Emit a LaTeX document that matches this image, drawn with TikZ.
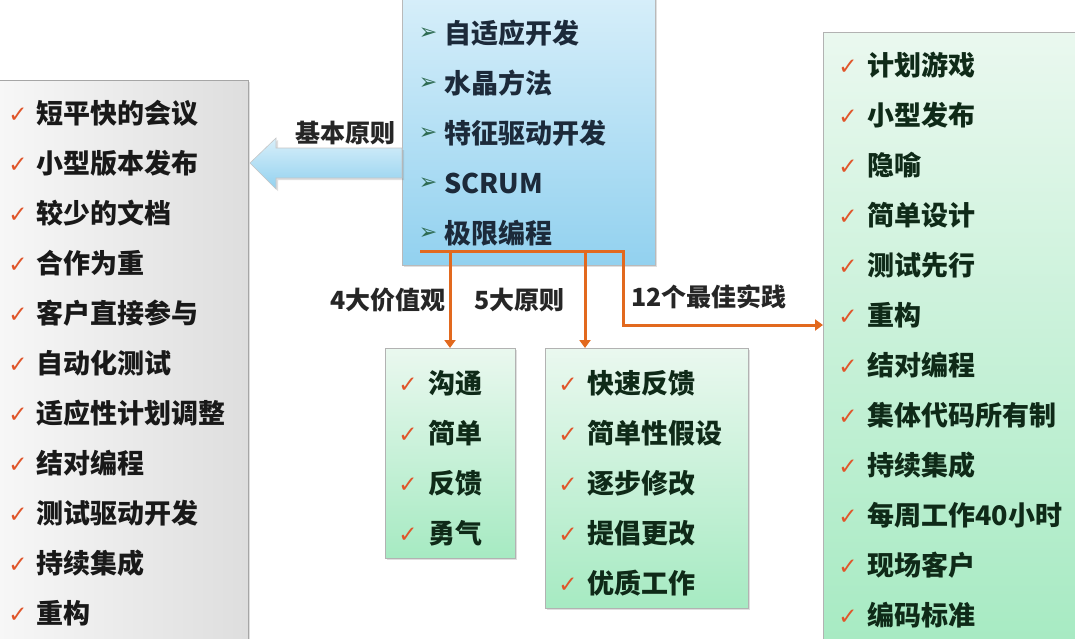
\documentclass[tikz,border=0pt]{standalone}
\usepackage{fontspec}
\setmainfont{Noto Sans CJK SC}
\newfontfamily\dejavu{DejaVu Sans}
\usetikzlibrary{arrows.meta,shadows}
\definecolor{orng}{HTML}{E2691E}
\definecolor{chkc}{HTML}{E0552A}
\definecolor{bul}{HTML}{2E6B52}
\definecolor{bluetop}{HTML}{D8EFFA}
\definecolor{bluebot}{HTML}{92D1EF}
\definecolor{greentop}{HTML}{EAF8EF}
\definecolor{greenbot}{HTML}{A6EAC2}
\definecolor{navy}{HTML}{1C2A3A}
\definecolor{dkgreen}{HTML}{0F2A18}
\tikzset{
  shadowed/.style={drop shadow={opacity=0.25,shadow xshift=2pt,shadow yshift=-2pt}},
  graybox/.style={shadowed,draw=gray!70,line width=0.8pt,left color=gray!6,right color=gray!26,inner sep=0,anchor=north west},
  bluebox/.style={shadowed,draw=gray!55,line width=0.8pt,top color=bluetop,bottom color=bluebot,inner sep=0,anchor=north west},
  greenbox/.style={shadowed,draw=gray!60,line width=0.8pt,top color=greentop,bottom color=greenbot,inner sep=0,anchor=north west},
  itemtext/.style={anchor=west,inner sep=0,font=\bfseries\fontsize{27}{27}\selectfont,text=black!90},
  lbl/.style={inner sep=0,font=\bfseries\fontsize{25}{25}\selectfont,text=black!85},
  chk/.style={inner sep=0,font=\dejavu\fontsize{23}{23}\selectfont,text=chkc},
  bulmark/.style={inner sep=0,font=\dejavu\fontsize{22}{22}\selectfont,text=bul},
  conn/.style={draw=orng,line width=3pt},
  connarrow/.style={conn,-{Triangle[width=11pt,length=8pt]}},
}
\begin{document}
\begin{tikzpicture}[x=1pt,y=-1pt]
\useasboundingbox (0,0) rectangle (1075,638);
\fill[white] (0,0) rectangle (1075,638);

% boxes
\node[graybox,minimum width=253pt,minimum height=580pt] (L) at (-5,80) {};
\node[bluebox,minimum width=253pt,minimum height=275pt] (B) at (402,-10) {};
\node[greenbox,minimum width=130pt,minimum height=210pt] (G1) at (385,348) {};
\node[greenbox,minimum width=203pt,minimum height=260pt] (G2) at (545,348) {};
\node[greenbox,minimum width=260pt,minimum height=620pt] (R) at (823,32) {};

% big block arrow (basic principles)
\path[shadowed,draw=gray!45,line width=0.6pt,top color=bluetop,bottom color=bluebot]
  (402,148) -- (276,148) -- (276,138) -- (250,163) -- (276,189) -- (276,178) -- (402,178) -- cycle;
\coordinate (arrtip) at (250,163);

% blue box items
\foreach \t [count=\i] in {自适应开发,水晶方法,特征驱动开发,SCRUM,极限编程}{
  \node[bulmark] (bb\i) at (428,{34+50*(\i-1)}) {➢};
  \node[itemtext,text=navy] (b\i) at (444,{33+50*(\i-1)}) {\t};
}

% left box items
\foreach \t [count=\i] in {短平快的会议,小型版本发布,较少的文档,合作为重,客户直接参与,自动化测试,适应性计划调整,结对编程,测试驱动开发,持续集成,重构}{
  \node[chk] (lc\i) at (18,{115+50*(\i-1)}) {✓};
  \node[itemtext] (l\i) at (36,{113+50*(\i-1)}) {\t};
}

% green box 1
\foreach \t [count=\i] in {沟通,简单,反馈,勇气}{
  \node[chk] (gac\i) at (408,{385+50*(\i-1)}) {✓};
  \node[itemtext,text=dkgreen] (ga\i) at (428,{383+50*(\i-1)}) {\t};
}

% green box 2
\foreach \t [count=\i] in {快速反馈,简单性假设,逐步修改,提倡更改,优质工作}{
  \node[chk] (gbc\i) at (568,{385+50*(\i-1)}) {✓};
  \node[itemtext,text=dkgreen] (gb\i) at (587,{383+50*(\i-1)}) {\t};
}

% right box
\foreach \t [count=\i] in {计划游戏,小型发布,隐喻,简单设计,测试先行,重构,结对编程,集体代码所有制,持续集成,每周工作40小时,现场客户,编码标准}{
  \node[chk] (rc\i) at (848,{67+50*(\i-1)}) {✓};
  \node[itemtext,text=dkgreen] (r\i) at (867,{65+50*(\i-1)}) {\t};
}

% labels
\node[lbl,anchor=east] (lbasic) at (396,133) {基本原则};
\node[lbl,anchor=east] (l4) at (446,300) {4大价值观};
\node[lbl,anchor=west] (l5) at (474,300) {5大原则};
\node[lbl,anchor=west] (l12) at (631,297) {12个最佳实践};

% orange connectors
\coordinate (hs) at (420,251);
\coordinate (h1) at (450,251);
\coordinate (h2) at (585,251);
\coordinate (h3) at (623,251);
\coordinate (h3d) at (623,325);
\draw[conn,line cap=butt] (hs) -- ([xshift=1.5pt]h3);
\draw[connarrow] (h1) -- (h1 |- G1.north);
\draw[connarrow] (h2) -- (h2 |- G2.north);
\draw[connarrow] (h3) -- (h3d) -- (h3d -| R.west);
\end{tikzpicture}
\end{document}
